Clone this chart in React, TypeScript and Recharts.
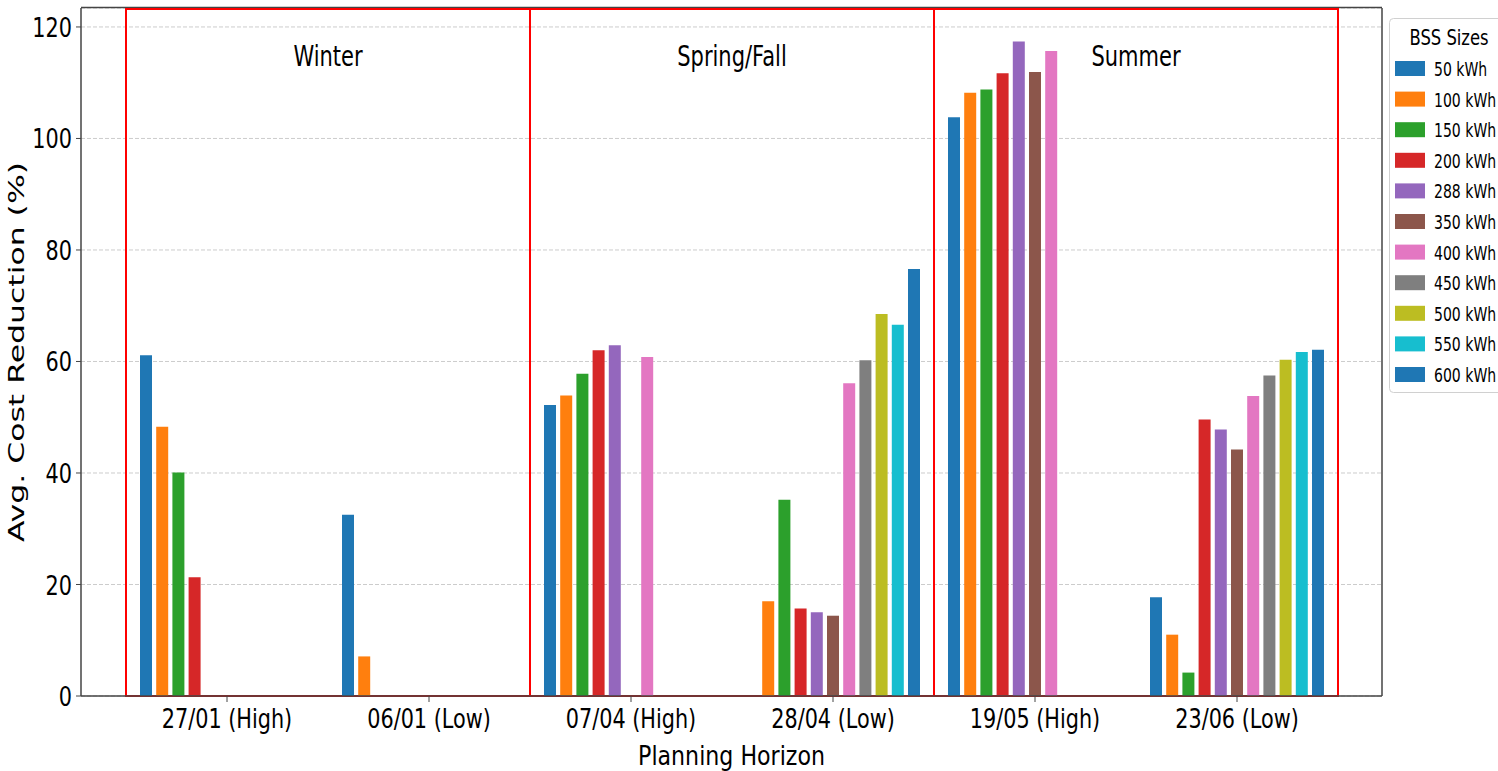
import React from 'react';
import { BarChart, Bar, XAxis, YAxis, CartesianGrid, ReferenceArea } from 'recharts';

// Planning horizons (x categories)
const dates = ['27/01 (High)', '06/01 (Low)', '07/04 (High)', '28/04 (Low)', '19/05 (High)', '23/06 (Low)'];

// BSS sizes (series)
const sizes = ['50 kWh', '100 kWh', '150 kWh', '200 kWh', '288 kWh', '350 kWh', '400 kWh', '450 kWh', '500 kWh', '550 kWh', '600 kWh'];
const sizeColors = ['#1f77b4', '#ff7f0e', '#2ca02c', '#d62728', '#9467bd', '#8c564b', '#e377c2', '#7f7f7f', '#bcbd22', '#17becf', '#1f77b4'];

// Avg. cost reduction (%) per size, one value per planning horizon
const kwh50 = [61.1, 32.5, 52.2, 0, 103.8, 17.7];
const kwh100 = [48.3, 7.1, 53.9, 17.0, 108.2, 11.0];
const kwh150 = [40.1, 0, 57.8, 35.2, 108.8, 4.2];
const kwh200 = [21.3, 0, 62.0, 15.7, 111.7, 49.6];
const kwh288 = [0, 0, 62.9, 15.0, 117.4, 47.8];
const kwh350 = [0, 0, 0, 14.4, 111.9, 44.2];
const kwh400 = [0, 0, 60.8, 56.1, 115.7, 53.8];
const kwh450 = [0, 0, 0, 60.2, 0, 57.5];
const kwh500 = [0, 0, 0, 68.5, 0, 60.3];
const kwh550 = [0, 0, 0, 66.6, 0, 61.7];
const kwh600 = [0, 0, 0, 76.6, 0, 62.1];
const series = [kwh50, kwh100, kwh150, kwh200, kwh288, kwh350, kwh400, kwh450, kwh500, kwh550, kwh600];

const yTicks = [0, 20, 40, 60, 80, 100, 120];
const yMax = 123.4;

// season boxes span pairs of planning horizons
const seasons = [
  { name: 'Winter', from: dates[0], to: dates[1] },
  { name: 'Spring/Fall', from: dates[2], to: dates[3] },
  { name: 'Summer', from: dates[4], to: dates[5] },
];

const data = dates.map((d, i) => {
  const row: Record<string, string | number> = { date: d };
  sizes.forEach((_, j) => { row['s' + j] = series[j][i]; });
  return row;
});

const FONT = '"DejaVu Sans", sans-serif';
const SQUEEZE = 0.77; // the original figure is horizontally squashed
const AXIS = '#444';

function XTick({ x, y, payload }: any) {
  return (
    <g transform={`translate(${x},${y}) scale(${SQUEEZE},1)`}>
      <text textAnchor="middle" dy={24} fontSize={27} fill="#000" fontFamily={FONT}>{payload.value}</text>
    </g>
  );
}

function YTick({ x, y, payload }: any) {
  return (
    <g transform={`translate(${x},${y}) scale(${SQUEEZE},1)`}>
      <text textAnchor="end" dy={10} fontSize={27} fill="#000" fontFamily={FONT}>{payload.value}</text>
    </g>
  );
}

function SeasonLabel({ viewBox, text }: any) {
  const cx = viewBox.x + viewBox.width / 2;
  const cy = viewBox.y + 57;
  return (
    <text transform={`translate(${cx},${cy}) scale(0.75,1)`} textAnchor="middle" fontSize={28} fill="#000" fontFamily={FONT}>
      {text}
    </text>
  );
}

function YLabel({ viewBox }: any) {
  const cy = viewBox.y + viewBox.height / 2;
  return (
    <text transform={`translate(${viewBox.x + 24},${cy}) scale(0.68,1) rotate(-90)`} textAnchor="middle" fontSize={31.5} fill="#000" fontFamily={FONT}>
      Avg. Cost Reduction (%)
    </text>
  );
}

function XLabel({ viewBox }: any) {
  const cx = viewBox.x + viewBox.width / 2;
  return (
    <text transform={`translate(${cx},${viewBox.y + 69}) scale(0.82,1)`} textAnchor="middle" fontSize={27} fill="#000" fontFamily={FONT}>
      Planning Horizon
    </text>
  );
}

function SizeLegend() {
  return (
    <svg width={125} height={380} style={{ position: 'absolute', left: 1389, top: 18 }}>
      <rect x={0.5} y={0.5} width={119} height={374} rx={4} fill="#fff" stroke="#d0d0d0" />
      <text transform={`translate(60,26.5) scale(0.8,1)`} textAnchor="middle" fontSize={20.5} fontFamily={FONT} fill="#000">BSS Sizes</text>
      {sizes.map((s, i) => (
        <g key={s} transform={`translate(0,${i * 30.6})`}>
          <rect x={6} y={43} width={30} height={15} fill={sizeColors[i]} />
          <text transform={`translate(45,58) scale(0.72,1)`} fontSize={19.5} fontFamily={FONT} fill="#000">{s}</text>
        </g>
      ))}
    </svg>
  );
}

export default function App() {
  return (
    <div style={{ position: 'absolute', left: 0, top: 0, width: 1498, height: 771, overflow: 'hidden', background: '#fff' }}>
      <BarChart
        width={1498}
        height={771}
        data={data}
        margin={{ top: 8, right: 116, left: 0, bottom: 0 }}
        barSize={12}
        barGap={4.2}
      >
        <CartesianGrid vertical={false} stroke="#cccccc" strokeDasharray="4 2" />
        {/* top and right spines of the axes frame */}
        <CartesianGrid
          stroke={AXIS}
          strokeWidth={1.5}
          horizontalCoordinatesGenerator={({ offset }: any) => [offset.top - 0.5]}
          verticalCoordinatesGenerator={({ offset }: any) => [offset.left + offset.width]}
        />
        <XAxis
          dataKey="date"
          height={75}
          padding={{ left: 45, right: 44 }}
          axisLine={{ stroke: AXIS, strokeWidth: 1.5 }}
          tickLine={{ stroke: AXIS }}
          tickSize={6}
          tick={<XTick />}
          interval={0}
          label={{ content: (p: any) => <XLabel viewBox={p.viewBox} /> }}
        />
        <YAxis
          width={81}
          domain={[0, yMax]}
          ticks={yTicks}
          allowDataOverflow
          axisLine={{ stroke: AXIS, strokeWidth: 1.5 }}
          tickLine={{ stroke: AXIS }}
          tickSize={5}
          tickMargin={4}
          tick={<YTick />}
          label={{ content: (p: any) => <YLabel viewBox={p.viewBox} /> }}
        />
        {sizes.map((s, j) => (
          <Bar key={s} dataKey={'s' + j} name={s} fill={sizeColors[j]} isAnimationActive={false} />
        ))}
        {seasons.map((s) => (
          <ReferenceArea
            key={s.name}
            x1={s.from}
            x2={s.to}
            y1={0}
            y2={yMax - 0.2}
            fill="none"
            stroke="#ff0000"
            strokeWidth={2}
            label={{ content: (p: any) => <SeasonLabel viewBox={p.viewBox} text={s.name} /> }}
          />
        ))}
      </BarChart>
      <SizeLegend />
    </div>
  );
}
